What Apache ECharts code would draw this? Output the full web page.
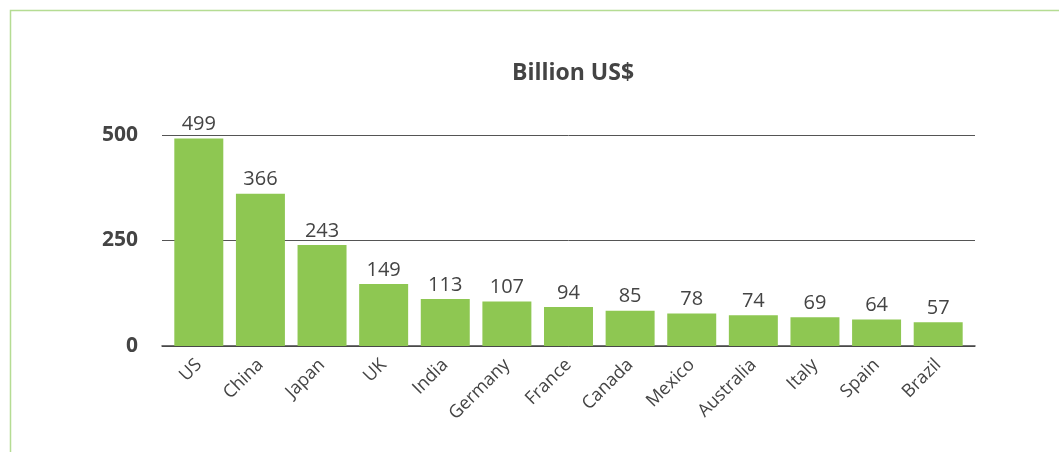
<!DOCTYPE html>
<html>
<head>
<meta charset="utf-8">
<script src="https://cdn.jsdelivr.net/npm/echarts@6/dist/echarts.min.js"></script>
<style>
  html, body { margin: 0; padding: 0; background: #fff; }
  #chart { width: 1059px; height: 452px; }
</style>
</head>
<body>
<div id="chart"></div>
<script>
const countries = ['US', 'China', 'Japan', 'UK', 'India', 'Germany', 'France', 'Canada', 'Mexico', 'Australia', 'Italy', 'Spain', 'Brazil'];
const values = [499, 366, 243, 149, 113, 107, 94, 85, 78, 74, 69, 64, 57];
const yTicks = [0, 250, 500];

const FONT = '"Open Sans", "Noto Sans", sans-serif';
const TEXT = '#444';

const chart = echarts.init(document.getElementById('chart'));

const option = {
  animation: false,
  title: {
    text: 'Billion US$',
    left: 568,
    top: 57,
    textAlign: 'center',
    textStyle: { fontFamily: FONT, fontSize: 23, fontWeight: 'bold', color: TEXT },
  },
  // light green frame on the left and top
  graphic: [
    {
      type: 'polyline',
      shape: { points: [[10.5, 452], [10.5, 10.5], [1059, 10.5]] },
      style: { stroke: '#b5dc93', lineWidth: 1.5, fill: null },
    },
  ],
  // grid 0: gridlines, y labels, baseline (a bit wider than the bars)
  // grid 1: the bars and country labels
  grid: [
    { left: 162, right: 84, top: 135, bottom: 106 },
    { left: 168, right: 90, top: 138, bottom: 106 },
  ],
  xAxis: [
    {
      type: 'value',
      gridIndex: 0,
      min: 0,
      max: 1,
      axisLine: { show: true, onZero: false, lineStyle: { color: '#444', width: 1.5 } },
      axisTick: { show: false },
      axisLabel: { show: false },
      splitLine: { show: false },
    },
    {
      type: 'category',
      gridIndex: 1,
      data: countries,
      axisLine: { show: false },
      axisTick: { show: false },
      axisLabel: {
        rotate: 45,
        interval: 0,
        margin: 16,
        fontFamily: FONT,
        fontSize: 18,
        color: TEXT,
      },
    },
  ],
  yAxis: [
    {
      type: 'value',
      gridIndex: 0,
      min: 0,
      max: 500,
      interval: 250,
      axisLine: { show: false },
      axisTick: { show: false },
      splitLine: { lineStyle: { color: '#555', width: 1 } },
      axisLabel: {
        margin: 24,
        fontFamily: FONT,
        fontSize: 21,
        fontWeight: 'bold',
        color: TEXT,
        formatter: (v) => (yTicks.includes(v) ? String(v) : ''),
      },
    },
    {
      type: 'value',
      gridIndex: 1,
      min: 0,
      max: 500,
      interval: 250,
      show: false,
    },
  ],
  series: [
    {
      type: 'bar',
      xAxisIndex: 1,
      yAxisIndex: 1,
      data: values,
      barCategoryGap: '20.5%',
      itemStyle: { color: '#8ec752' },
      label: {
        show: true,
        position: 'top',
        distance: 4,
        fontFamily: FONT,
        fontSize: 20,
        color: TEXT,
      },
    },
  ],
};

chart.setOption(option);
</script>
</body>
</html>
